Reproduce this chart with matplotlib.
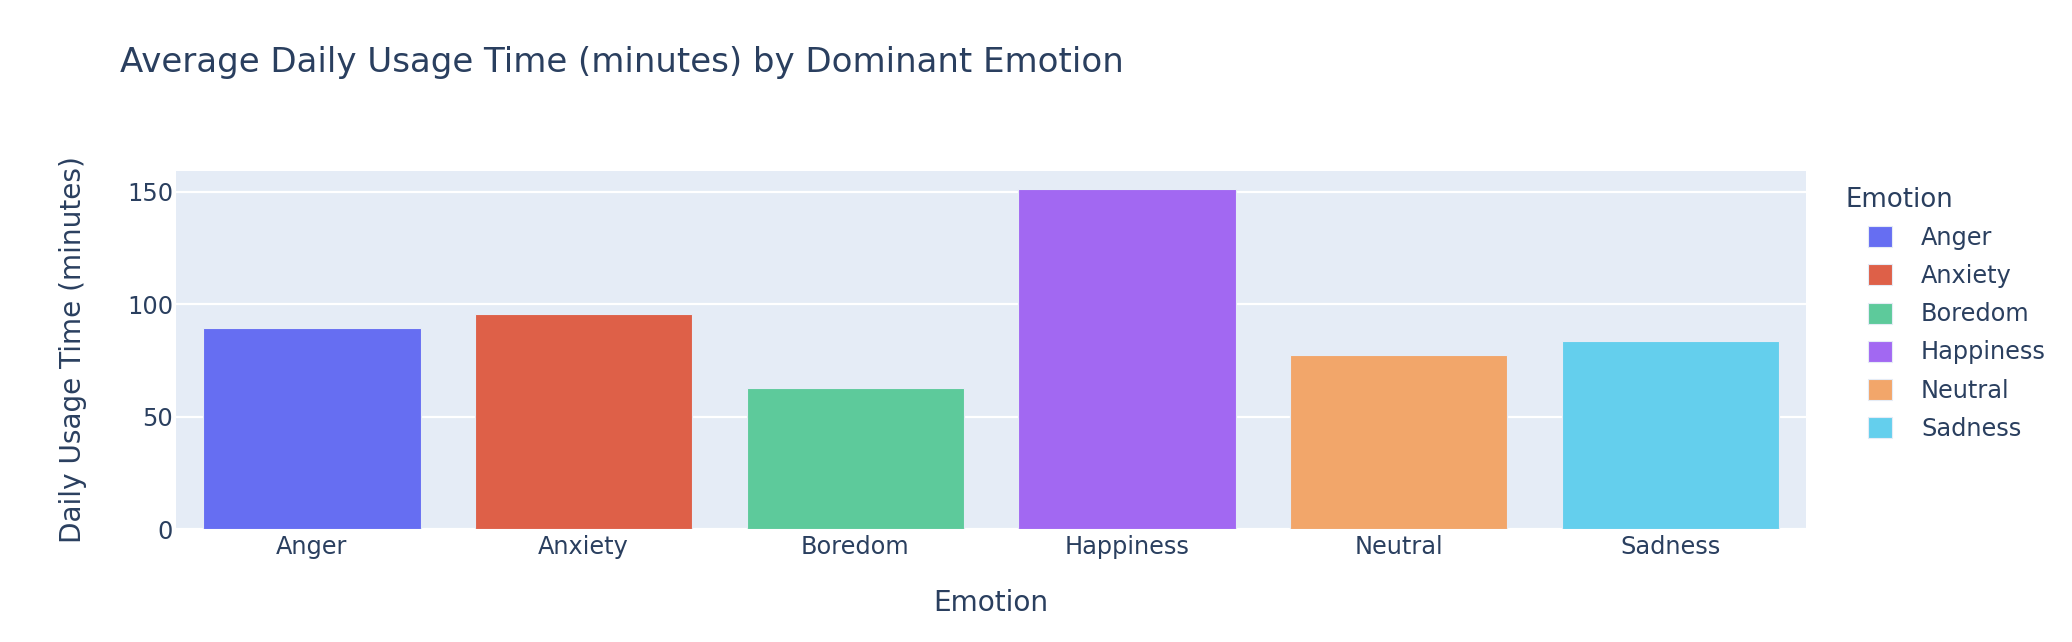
import matplotlib
matplotlib.use("Agg")
import matplotlib.pyplot as plt

emotions = ["Anger", "Anxiety", "Boredom", "Happiness", "Neutral", "Sadness"]
usage_minutes = [89.7, 95.6, 63.0, 151.2, 77.7, 83.5]
bar_colors = ["#666EF2", "#DE6048", "#5DCA9B", "#A268F2", "#F2A66A", "#64CFED"]
y_ticks = [0, 50, 100, 150]

W, H = 2072, 642
DPI = 100
TXT = "#2a3f5f"
plt.rcParams['font.family'] = ['DejaVu Sans']

def pt(px):
    return px * 72.0 / DPI

fig = plt.figure(figsize=(W / DPI, H / DPI), dpi=DPI)
left, right, top, bottom = 176, 1806, 171, 529.3
ax = fig.add_axes([left / W, 1 - bottom / H, (right - left) / W, (bottom - top) / H])
ax.set_facecolor("#E5ECF6")

x = list(range(len(emotions)))
bars = ax.bar(x, usage_minutes, width=0.8, color=bar_colors, edgecolor="#E5ECF6",
              linewidth=0.8, zorder=3)

ax.set_xlim(-0.5, len(emotions) - 0.5)
ax.set_ylim(0, 159.3)
ax.set_yticks(y_ticks)
ax.set_xticks(x)
ax.set_xticklabels(emotions)
ax.grid(axis="y", color="white", linewidth=1.6, zorder=0)
ax.set_axisbelow(True)
for s in ax.spines.values():
    s.set_visible(False)
ax.tick_params(axis="both", length=0, labelsize=pt(24), labelcolor=TXT)
ax.tick_params(axis="y", pad=pt(3))
ax.tick_params(axis="x", pad=pt(6))

fig.text(81 / W, 1 - 350 / H, "Daily Usage Time (minutes)", fontsize=pt(28), color=TXT,
         rotation=90, rotation_mode="anchor", ha="center", va="baseline")
fig.text(991 / W, 1 - 611 / H, "Emotion", fontsize=pt(28), color=TXT,
         ha="center", va="baseline")

fig.text(120 / W, 1 - 72 / H, "Average Daily Usage Time (minutes) by Dominant Emotion",
         fontsize=pt(34), color=TXT, ha="left", va="baseline")

fig.text(1846 / W, 1 - 207 / H, "Emotion", fontsize=pt(26), color=TXT, ha="left", va="baseline")
leg = ax.legend(bars, emotions, loc="upper left", bbox_to_anchor=(1868 / W, 1 - 226 / H),
                bbox_transform=fig.transFigure, frameon=False, fontsize=pt(24),
                handlelength=1.0, handleheight=0.96, handletextpad=1.21,
                labelspacing=0.59, borderpad=0, borderaxespad=0)
for t in leg.get_texts():
    t.set_color(TXT)

fig.savefig("out.png", dpi=DPI, facecolor="white")
